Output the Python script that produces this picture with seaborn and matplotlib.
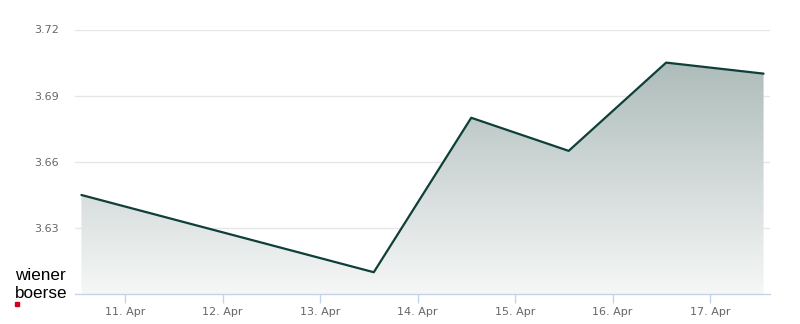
import numpy as np
import pandas as pd
import matplotlib
matplotlib.use("Agg")
import matplotlib.pyplot as plt
import matplotlib.dates as mdates
from matplotlib.colors import LinearSegmentedColormap
from matplotlib.patches import Rectangle
import seaborn as sns

# Data
dates = ["2025-04-10 13:12", "2025-04-13 13:12", "2025-04-14 13:12",
         "2025-04-15 13:12", "2025-04-16 13:12", "2025-04-17 13:12"]
prices = [3.645, 3.61, 3.68, 3.665, 3.705, 3.70]
y_ticks = [3.63, 3.66, 3.69, 3.72]
x_tick_days = ["2025-04-11", "2025-04-12", "2025-04-13", "2025-04-14",
               "2025-04-15", "2025-04-16", "2025-04-17"]

df = pd.DataFrame({"date": pd.to_datetime(dates), "price": prices})

sns.set_theme(style="white")
plt.rcParams["font.family"] = ["DejaVu Sans"]

fig = plt.figure(figsize=(8, 3.24), dpi=100)
ax = fig.add_axes([75 / 800, (324 - 294.3) / 324, 695 / 800, (294.3 - 29.5) / 324])

ymin, ymax = 3.60, 3.72
xd = mdates.date2num(df["date"])
pad = 0.066
xmin, xmax = xd[0] - pad, xd[-1] + pad

# gradient fill under line
line_color = "#0e3f39"
cmap = LinearSegmentedColormap.from_list("g", ["#f6f7f7", "#a3b4b1"])
grad = np.linspace(0, 1, 256).reshape(-1, 1)
im = ax.imshow(grad, extent=[xd[0], xd[-1], ymin, ymax], origin="lower",
               aspect="auto", cmap=cmap, zorder=1, interpolation="bicubic")
poly = ax.fill_between(xd, prices, ymin, color="none", lw=0)
clip = poly.get_paths()[0]
im.set_clip_path(clip, transform=ax.transData)

sns.lineplot(data=df, x="date", y="price", ax=ax, color=line_color,
             linewidth=1.6, zorder=3)

ax.set_xlim(xmin, xmax)
ax.set_ylim(ymin, ymax)
ax.set_yticks(y_ticks)
ax.set_yticklabels([f"{v:.2f}" for v in y_ticks])
ax.set_xticks(mdates.date2num(pd.to_datetime(x_tick_days)))
ax.xaxis.set_major_formatter(mdates.DateFormatter("%d. %b"))
ax.set_xlabel("")
ax.set_ylabel("")

ax.grid(axis="y", color="#e6e6e6", linewidth=1, zorder=0)
ax.grid(axis="x", visible=False)
for s in ["top", "right", "left"]:
    ax.spines[s].set_visible(False)
ax.spines["bottom"].set_color("#c6d4ea")
ax.spines["bottom"].set_linewidth(1)
ax.tick_params(axis="x", colors="#c6d4ea", length=6.5, width=1, pad=2.5,
               labelcolor="#666666", labelsize=8, direction="out", bottom=True)
ax.tick_params(axis="y", length=0, pad=11.5, labelcolor="#666666", labelsize=8)
ax.set_facecolor("white")

# Logo
fig.text(15 / 800, 1 - 280 / 324, "wiener", fontsize=12.3, family="Liberation Sans",
         color="black", va="baseline", ha="left", weight="medium")
fig.text(15 / 800, 1 - 297.7 / 324, "boerse", fontsize=12.3, family="Liberation Sans",
         color="black", va="baseline", ha="left", weight="medium")
fig.patches.append(Rectangle((15 / 800, 1 - 306 / 324), 4 / 800, 4 / 324,
                             transform=fig.transFigure, color="#d4001a"))

fig.savefig("out.png", dpi=100)
